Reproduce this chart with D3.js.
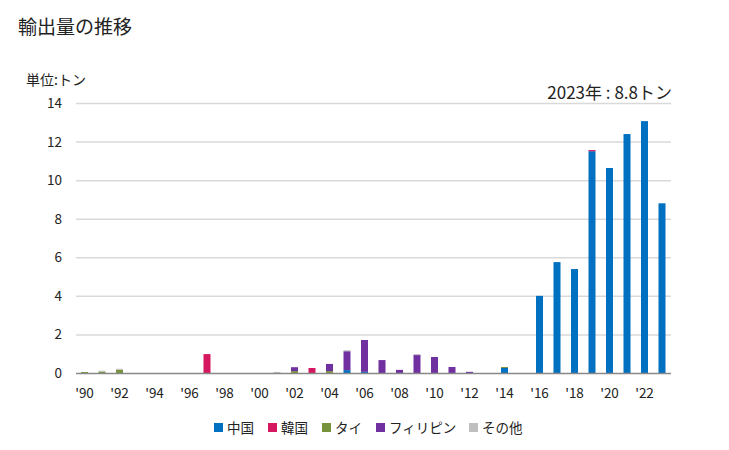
<!DOCTYPE html>
<html><head><meta charset="utf-8">
<script src="https://cdn.jsdelivr.net/npm/d3@7"></script>
<style>
body{margin:0;background:#fff;}
text{font-family:"Noto Sans CJK JP","Noto Sans",sans-serif;}
</style></head>
<body><svg id="c" width="729" height="450"></svg>
<script>
const years = d3.range(1990, 2024);
const seriesNames = ["中国", "韓国", "タイ", "フィリピン", "その他"];
const colors = ["#0070C0", "#D5175F", "#76933C", "#7030A0", "#BFBFBF"];
// values per year 1990..2023
const china =   [0,0,0,0,0,0,0,0,0,0,0,0,0,0,0,0.15,0.06,0,0,0,0,0,0,0,0.26,0,4.0,5.75,5.39,11.5,10.63,12.39,13.06,8.8];
const korea =   [0,0,0,0,0,0,0,0.98,0,0,0,0,0,0.26,0,0,0,0,0,0,0,0,0,0,0,0,0,0,0,0.06,0,0,0,0];
const thai =    [0.05,0.07,0.17,0,0,0,0,0,0,0,0,0,0.1,0,0.1,0,0,0,0,0,0,0,0,0,0.05,0,0,0,0,0,0,0,0,0];
const phil =    [0,0,0,0,0,0,0,0,0,0,0,0,0.2,0,0.37,0.98,1.65,0.67,0.16,0.93,0.83,0.31,0.06,0,0,0,0,0,0,0,0,0,0,0];
const other =   [0,0.05,0.05,0,0,0,0,0,0,0,0,0.05,0,0,0,0.05,0,0,0,0.05,0,0,0,0,0,0,0,0,0,0,0,0,0,0];
const yTicks = [0,2,4,6,8,10,12,14];
const xTickYears = [1990,1992,1994,1996,1998,2000,2002,2004,2006,2008,2010,2012,2014,2016,2018,2020,2022];
const title = "輸出量の推移";
const unitLabel = "単位:トン";
const note = "2023年 : 8.8トン";

const rows = years.map((y,i)=>({year:y, "中国":china[i], "韓国":korea[i], "タイ":thai[i], "フィリピン":phil[i], "その他":other[i]}));
const svg = d3.select("#c");
const x = d3.scaleBand().domain(years).range([75.75, 670.75]).paddingInner(0.6).paddingOuter(0.3);
const y = d3.scaleLinear().domain([0,14]).range([373, 103]);
const color = d3.scaleOrdinal().domain(seriesNames).range(colors);

svg.append("text").attr("x",18).attr("y",34).attr("font-size",19).attr("fill","#222").text(title);
svg.append("text").attr("x",26).attr("y",85).attr("font-size",14).attr("fill","#222").text(unitLabel);
svg.append("text").attr("x",672).attr("y",99).attr("text-anchor","end").attr("font-size",17).attr("fill","#222").text(note);

// grid
svg.append("g").selectAll("line").data(yTicks.filter(d=>d>0)).join("line")
  .attr("x1",76).attr("x2",671).attr("y1",d=>y(d)+0.5).attr("y2",d=>y(d)+0.5)
  .attr("stroke","#d9d9d9").attr("stroke-width",1.5);
// y labels
svg.append("g").selectAll("text").data(yTicks).join("text")
  .attr("x",62).attr("y",d=>y(d)+5).attr("text-anchor","end").attr("font-size",13.5).attr("fill","#222").text(d=>d);

const stack = d3.stack().keys(seriesNames)(rows);
svg.append("g").selectAll("g").data(stack).join("g").attr("fill",d=>color(d.key))
  .selectAll("rect").data(d=>d).join("rect")
  .attr("x",d=>x(d.data.year)).attr("width",x.bandwidth())
  .attr("y",d=>y(d[1])).attr("height",d=>Math.max(0,y(d[0])-y(d[1])));

// x axis line
svg.append("line").attr("x1",76).attr("x2",671).attr("y1",373.5).attr("y2",373.5).attr("stroke","#888").attr("stroke-width",1.5);
svg.append("g").selectAll("text").data(xTickYears).join("text")
  .attr("x",d=>x(d)+x.bandwidth()/2).attr("y",398).attr("text-anchor","middle").attr("font-size",13.5).attr("fill","#222")
  .text(d=>"'"+String(d).slice(2));

// legend
const legX = [214,268,322,376,469];
const lg = svg.append("g").selectAll("g").data(seriesNames).join("g")
  .attr("transform",(d,i)=>`translate(${legX[i]},423)`);
lg.append("rect").attr("width",9).attr("height",9).attr("fill",d=>color(d));
lg.append("text").attr("x",13).attr("y",9.5).attr("font-size",13.5).attr("fill","#222").text(d=>d);
</script></body></html>
